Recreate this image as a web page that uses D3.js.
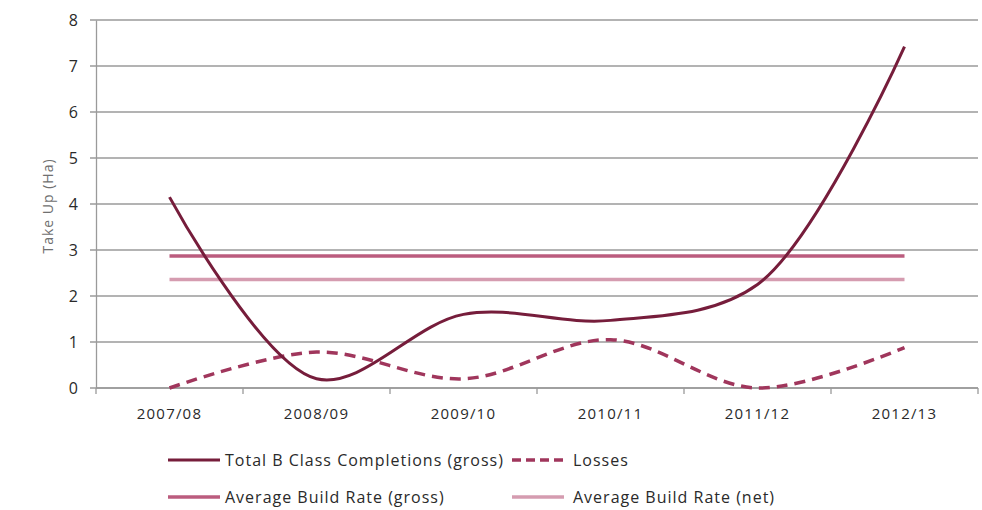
<!DOCTYPE html>
<html>
<head>
<meta charset="utf-8">
<script src="https://cdn.jsdelivr.net/npm/d3@7"></script>
<style>
  body { margin: 0; background: #fff; }
  svg text { font-family: "Open Sans", Lato, sans-serif; }
</style>
</head>
<body>
<div id="chart"></div>
<script>
// values
const years = ["2007/08", "2008/09", "2009/10", "2010/11", "2011/12", "2012/13"];
const totalGross = [4.15, 0.2, 1.6, 1.47, 2.25, 7.42];
const losses = [0, 0.78, 0.2, 1.05, 0, 0.88];
const avgGross = [2.87, 2.87, 2.87, 2.87, 2.87, 2.87];
const avgNet = [2.36, 2.36, 2.36, 2.36, 2.36, 2.36];
const yTicks = [0, 1, 2, 3, 4, 5, 6, 7, 8];

const width = 982, height = 510;
const margin = {top: 20, right: 4, bottom: 122, left: 96};

const svg = d3.select("#chart").append("svg")
    .attr("width", width)
    .attr("height", height);

const x = d3.scaleBand()
    .domain(years)
    .range([margin.left, width - margin.right]);

const y = d3.scaleLinear()
    .domain([0, 8])
    .range([height - margin.bottom, margin.top]);

// grid lines
svg.append("g")
    .selectAll("line")
    .data(yTicks)
    .enter().append("line")
    .attr("x1", margin.left - 6)
    .attr("x2", width - margin.right)
    .attr("y1", d => y(d))
    .attr("y2", d => y(d))
    .style("stroke", "#9a9a9a")
    .style("stroke-width", 1.3);

// y axis
const yAxis = d3.axisLeft(y).tickValues(yTicks).tickSize(0).tickPadding(18);
svg.append("g")
    .attr("transform", "translate(" + margin.left + ",0)")
    .call(yAxis)
    .call(g => g.select(".domain").style("stroke", "#9a9a9a").style("stroke-width", 1.3))
    .selectAll("text")
    .style("font-size", "16px")
    .style("font-family", "'Open Sans', sans-serif")
    .style("fill", "#2a2a2a");

// x axis
const xBottom = y(0);
svg.append("line")
    .attr("x1", margin.left)
    .attr("x2", width - margin.right)
    .attr("y1", xBottom)
    .attr("y2", xBottom)
    .style("stroke", "#9a9a9a")
    .style("stroke-width", 1.3);

const bounds = years.map(d => x(d)).concat([x(years[years.length - 1]) + x.bandwidth()]);
svg.append("g")
    .selectAll("line")
    .data(bounds)
    .enter().append("line")
    .attr("x1", d => d)
    .attr("x2", d => d)
    .attr("y1", xBottom)
    .attr("y2", xBottom + 6)
    .style("stroke", "#9a9a9a")
    .style("stroke-width", 1.3);

svg.append("g")
    .selectAll("text")
    .data(years)
    .enter().append("text")
    .attr("x", d => x(d) + x.bandwidth() / 2)
    .attr("y", xBottom + 31)
    .attr("text-anchor", "middle")
    .style("font-size", "15px")
    .style("letter-spacing", "1.2px")
    .style("fill", "#2a2a2a")
    .text(d => d);

// y title
svg.append("text")
    .attr("transform", "translate(53," + (margin.top + 186) + ") rotate(-90)")
    .attr("text-anchor", "middle")
    .style("font-size", "14px")
    .style("letter-spacing", "1px")
    .style("fill", "#707070")
    .text("Take Up (Ha)");

const cx = d => x(d) + x.bandwidth() / 2;

const smooth = d3.line()
    .x((d, i) => cx(years[i]))
    .y(d => y(d))
    .curve(d3.curveCatmullRom.alpha(0.5));

const straight = d3.line()
    .x((d, i) => cx(years[i]))
    .y(d => y(d));

const series = [
    {name: "Average Build Rate (net)", values: avgNet, color: "#d59cb0", width: 3.5, dash: null, line: straight},
    {name: "Average Build Rate (gross)", values: avgGross, color: "#bb5c7e", width: 3.5, dash: null, line: straight},
    {name: "Losses", values: losses, color: "#a0365c", width: 3.5, dash: "11,7", line: smooth},
    {name: "Total B Class Completions (gross)", values: totalGross, color: "#761d3b", width: 3, dash: null, line: smooth}
];

svg.append("g")
    .selectAll("path")
    .data(series)
    .enter().append("path")
    .attr("d", d => d.line(d.values))
    .style("fill", "none")
    .style("stroke", d => d.color)
    .style("stroke-width", d => d.width)
    .style("stroke-dasharray", d => d.dash);

// legend
const legendItems = [
    {s: series[3], lx: 168, ty: 460},
    {s: series[2], lx: 512, ty: 460},
    {s: series[1], lx: 168, ty: 497},
    {s: series[0], lx: 512, ty: 497}
];

const legend = svg.append("g");
legendItems.forEach(item => {
    legend.append("line")
        .attr("x1", item.lx)
        .attr("x2", item.lx + 52)
        .attr("y1", item.ty)
        .attr("y2", item.ty)
        .style("stroke", item.s.color)
        .style("stroke-width", item.s.width)
        .style("stroke-dasharray", item.s.dash ? "9,5" : null);
    legend.append("text")
        .attr("x", item.lx + (item.lx > 300 ? 61 : 57))
        .attr("y", item.ty + 6)
        .style("font-size", "16px")
        .style("letter-spacing", "1px")
        .style("fill", "#2a2a2a")
        .text(item.s.name);
});
</script>
</body>
</html>
